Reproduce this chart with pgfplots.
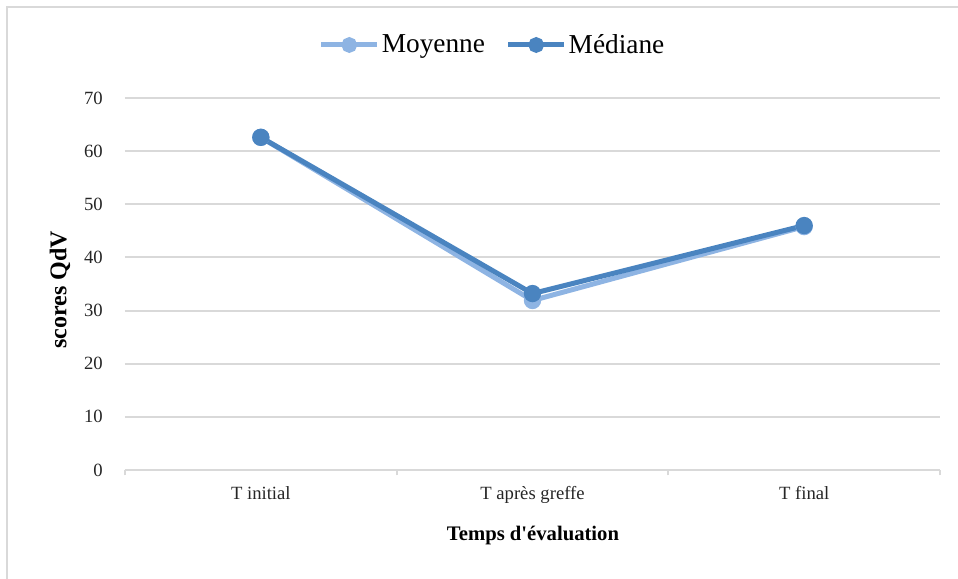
\documentclass[border=0pt]{standalone}
\usepackage{pgfplots}
\pgfplotsset{compat=1.18}
\usepackage{fontspec}
\setmainfont{Liberation Serif}
\definecolor{gridc}{HTML}{D9D9D9}
\definecolor{moy}{HTML}{8EB4E3}
\definecolor{med}{HTML}{4A84C0}
\begin{document}
\begin{tikzpicture}[x=0.75pt,y=0.75pt]
\draw[gridc, line width=1.5pt] (7,0) -- (7,572) -- (958,572);
\begin{axis}[
  at={(93.75pt,81.75pt)}, anchor=south west,
  scale only axis, width=611.25pt, height=279pt,
  xmin=-0.5, xmax=2.5, ymin=0, ymax=70,
  axis lines*=left,
  y axis line style={draw=none},
  x axis line style={gridc, line width=1.5pt},
  ytick={0,10,...,70},
  ymajorgrids, grid style={gridc, line width=1.5pt},
  major tick length=0pt,
  xtick={0,1,2},
  xticklabels={T initial, T après greffe, T final},
  minor xtick={-0.5,0.5,1.5,2.5},
  minor tick length=4pt,
  xtick align=outside,
  minor tick style={gridc, line width=1.5pt},
  /pgf/number format/assume math mode=true,
  ticklabel style={font=\fontsize{14}{16}\selectfont, text=black!85},
  yticklabel style={inner sep=0pt, anchor=east, xshift=-16.5pt},
  xticklabel style={inner sep=0pt, anchor=north, yshift=-12pt},
  legend style={at={(0.451,1.1425)}, anchor=center, draw=none, fill=none,
    legend columns=2, font=\fontsize{20.5}{23}\selectfont,
    /tikz/every even column/.append style={column sep=14pt},
    nodes={inner sep=1.5pt}},
  legend image code/.code={\draw[mark repeat=2,mark phase=2,#1,mark size=4pt] plot coordinates {(0pt,0pt) (21pt,0pt) (42pt,0pt)};},
  clip=false,
]
\addplot[moy, line width=3.75pt, mark=*, mark size=4.6pt, mark options={solid, fill=moy, draw=none}] coordinates {(0,62.6) (1,31.9) (2,45.8)};
\addlegendentry{Moyenne}
\addplot[med, line width=3.75pt, mark=*, mark size=4.6pt, mark options={solid, fill=med, draw=none}] coordinates {(0,62.6) (1,33.2) (2,46.0)};
\addlegendentry{Médiane}
\end{axis}
\node[font=\bfseries\fontsize{15.5}{18}\selectfont] at (533,43) {Temps d\textquotesingle évaluation};
\node[font=\bfseries\fontsize{18}{20}\selectfont, rotate=90] at (60,289) {scores QdV};
\pgfresetboundingbox
\useasboundingbox (0,0) rectangle (958,579);
\end{tikzpicture}
\end{document}
